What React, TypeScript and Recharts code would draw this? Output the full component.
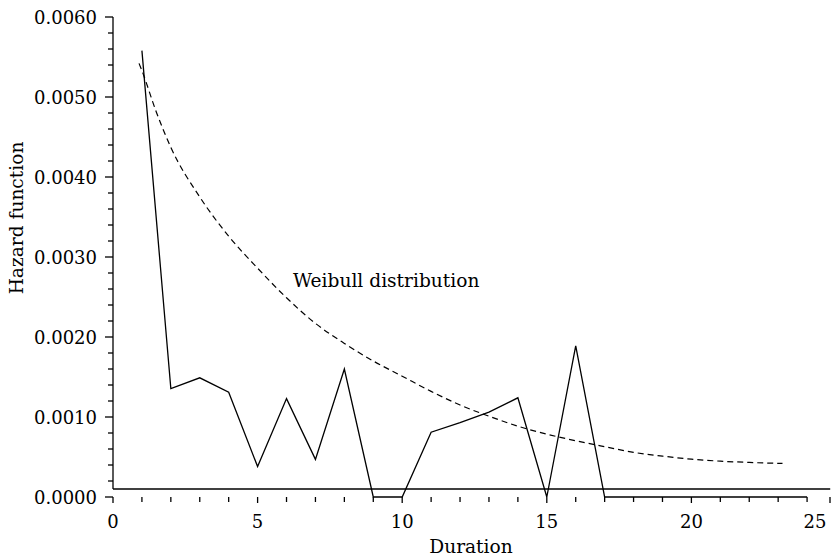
import React from "react";
import { LineChart, Line, XAxis, YAxis, ReferenceLine, Customized } from "recharts";

// Observed hazard by duration
const durations = [1, 2, 3, 4, 5, 6, 7, 8, 9, 10, 11, 12, 13, 14, 15, 16, 17, 18, 19, 20, 21, 22, 23, 24];
const hazard = [
  0.00558, 0.001355, 0.00149, 0.00131, 0.00038, 0.00123, 0.00047, 0.0016, 0, 0,
  0.00081, 0.00093, 0.00106, 0.00124, 0, 0.00189, 0, 0, 0, 0, 0, 0, 0, 0,
];

// Fitted Weibull hazard (dashed)
const weibullX = [0.9, 1, 1.5, 2, 3, 4, 5, 6, 7, 8, 9, 10, 11, 12, 13, 14, 15, 16, 17, 18, 19, 20, 21, 22, 23, 23.15];
const weibullY = [
  0.00542, 0.00533, 0.00481, 0.00437, 0.00375, 0.00326, 0.00286, 0.00249, 0.00217, 0.00192,
  0.0017, 0.00151, 0.00132, 0.00115, 0.00101, 0.000885, 0.000786, 0.000703, 0.000629, 0.000558,
  0.000511, 0.000473, 0.000448, 0.000432, 0.000421, 0.00042,
];

const xTicks = [0, 1, 2, 3, 4, 5, 6, 7, 8, 9, 10, 11, 12, 13, 14, 15, 16, 17, 18, 19, 20, 21, 22, 23, 24, 25];
const xMajorTicks = [0, 5, 10, 15, 20, 25];
const yMajorTicks = [0, 0.001, 0.002, 0.003, 0.004, 0.005, 0.006];
const yMinorPerMajor = 5;

const xTitle = "Duration";
const yTitle = "Hazard function";
const annotation = "Weibull distribution";

const FONT = "'DejaVu Serif', serif";
const FS = 18;
const FS_TITLE = 18.6;

const observed = durations.map((d, i) => ({ x: d, y: hazard[i] }));
const weibull = weibullX.map((d, i) => ({ x: d, y: weibullY[i] }));

const yTicks: number[] = [];
for (let i = 0; i < yMajorTicks.length - 1; i++) {
  const a = yMajorTicks[i];
  const b = yMajorTicks[i + 1];
  for (let j = 0; j < yMinorPerMajor; j++) yTicks.push(a + ((b - a) * j) / yMinorPerMajor);
}
yTicks.push(yMajorTicks[yMajorTicks.length - 1]);

const isYMajor = (v: number) => yMajorTicks.some((m) => Math.abs(m - v) < 1e-9);

const XTick = (props: any) => {
  const { x, y, payload } = props;
  const v = payload.value;
  const major = xMajorTicks.includes(v);
  const lx = Math.min(x, 830);
  const tx = Math.min(x, 815);
  return (
    <g>
      <line x1={lx} x2={lx} y1={y} y2={y + (major ? 6 : 5)} stroke="#000" strokeWidth={1.3} />
      {major && (
        <text x={tx} y={y + 31} textAnchor="middle" fontFamily={FONT} fontSize={FS} fill="#000">
          {v}
        </text>
      )}
    </g>
  );
};

const YTick = (props: any) => {
  const { x, y, payload } = props;
  const v = payload.value;
  const major = isYMajor(v);
  return (
    <g>
      <line x1={x - (major ? 8 : 5)} x2={x} y1={y} y2={y} stroke="#000" strokeWidth={1.3} />
      {major && (
        <text x={x - 16} y={y + 6.5} textAnchor="end" fontFamily={FONT} fontSize={FS} fill="#000">
          {v.toFixed(4)}
        </text>
      )}
    </g>
  );
};

const Titles = () => (
  <g fontFamily={FONT} fontSize={FS_TITLE} fill="#000">
    <text x={471} y={553} textAnchor="middle">{xTitle}</text>
    <text x={23} y={218} textAnchor="middle" transform="rotate(-90 23 218)">{yTitle}</text>
    <text x={293} y={287} textAnchor="start">{annotation}</text>
  </g>
);

export default function App() {
  return (
    <div style={{ position: "absolute", left: 0, top: 0, width: 833, height: 559, background: "#fff" }}>
      <LineChart width={833} height={559} data={observed} margin={{ top: 17, right: -3, bottom: 0, left: 0 }}>
        <XAxis
          dataKey="x"
          type="number"
          domain={[0, 25]}
          ticks={xTicks}
          interval={0}
          axisLine={false}
          tickLine={false}
          tickSize={0}
          tickMargin={0}
          height={62}
          tick={<XTick />}
        />
        <YAxis
          type="number"
          domain={[0, 0.006]}
          ticks={yTicks}
          interval={0}
          axisLine={false}
          tickLine={false}
          tickSize={0}
          tickMargin={0}
          width={113}
          tick={<YTick />}
        />
        <ReferenceLine
          segment={[{ x: 0, y: 0.0001 }, { x: 24.8, y: 0.0001 }]}
          stroke="#000"
          strokeWidth={1.3}
          ifOverflow="visible"
        />
        <ReferenceLine
          segment={[{ x: 0, y: 0.0001 }, { x: 0, y: 0.006 }]}
          stroke="#000"
          strokeWidth={1.3}
          ifOverflow="visible"
        />
        <Line
          data={observed}
          dataKey="y"
          type="linear"
          stroke="#000"
          strokeWidth={1.3}
          dot={false}
          isAnimationActive={false}
        />
        <Line
          data={weibull}
          dataKey="y"
          type="monotone"
          stroke="#000"
          strokeWidth={1.2}
          strokeDasharray="6 4"
          dot={false}
          isAnimationActive={false}
        />
        <Customized component={Titles} />
      </LineChart>
    </div>
  );
}
